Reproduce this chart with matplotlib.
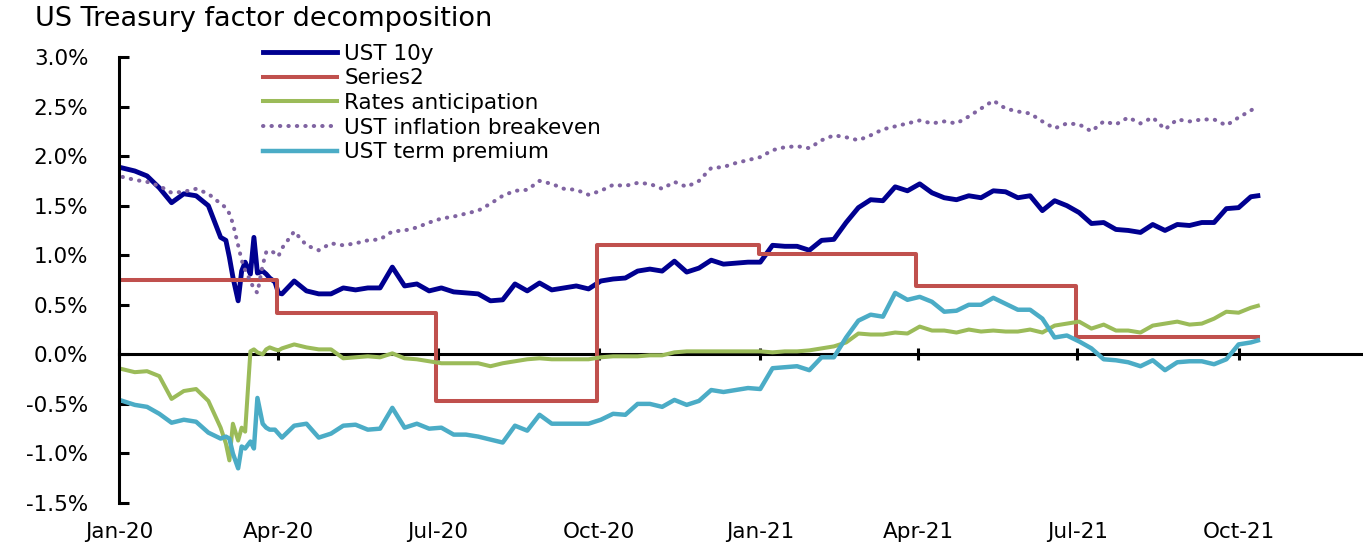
import pandas as pd
import matplotlib
matplotlib.use('Agg')
import matplotlib.pyplot as plt
import matplotlib.dates as mdates
from matplotlib.ticker import MultipleLocator, FuncFormatter

plt.rcParams['font.family'] = ['DejaVu Sans']

# weekly observations, with denser sampling through March 2020
dates = list(pd.date_range('2020-01-03', '2020-02-28', freq='W-FRI'))
dates += list(pd.to_datetime(['2020-03-02', '2020-03-04', '2020-03-06', '2020-03-09', '2020-03-11',
                              '2020-03-13', '2020-03-16', '2020-03-18', '2020-03-20', '2020-03-23',
                              '2020-03-25', '2020-03-27', '2020-03-30', '2020-04-01', '2020-04-03']))
dates += list(pd.date_range('2020-04-10', '2021-10-08', freq='W-FRI'))
dates += [pd.Timestamp('2021-10-12')]

ust10y = [1.88, 1.85, 1.80, 1.68, 1.53, 1.62, 1.60, 1.50, 1.18,
          1.15, 0.98, 0.78, 0.54, 0.84, 0.93, 0.81, 1.18, 0.82, 0.84, 0.81, 0.77, 0.73, 0.62, 0.61,
          0.74, 0.64, 0.61, 0.61, 0.67, 0.65, 0.67, 0.67, 0.88, 0.69,
          0.71, 0.64, 0.67, 0.63, 0.62, 0.61, 0.54, 0.55, 0.71, 0.64,
          0.72, 0.65, 0.67, 0.69, 0.66, 0.74, 0.76, 0.77, 0.84, 0.86,
          0.84, 0.94, 0.83, 0.87, 0.95, 0.91, 0.92, 0.93, 0.93, 1.10,
          1.09, 1.09, 1.05, 1.15, 1.16, 1.33, 1.48, 1.56, 1.55, 1.69,
          1.65, 1.72, 1.63, 1.58, 1.56, 1.60, 1.58, 1.65, 1.64, 1.58,
          1.60, 1.45, 1.55, 1.50, 1.43, 1.32, 1.33, 1.26, 1.25, 1.23,
          1.31, 1.25, 1.31, 1.30, 1.33, 1.33, 1.47, 1.48, 1.59,
          1.60]

rates_anticipation = [-0.15, -0.18, -0.17, -0.22, -0.45, -0.37, -0.35, -0.47, -0.74,
                      -0.90, -1.07, -0.70, -0.87, -0.74, -0.78, 0.03, 0.05, 0.02, 0.00, 0.05, 0.07, 0.05, 0.04, 0.06,
                      0.10, 0.07, 0.05, 0.05, -0.04, -0.03, -0.02, -0.03, 0.01, -0.04,
                      -0.05, -0.07, -0.09, -0.09, -0.09, -0.09, -0.12, -0.09, -0.07, -0.05,
                      -0.04, -0.05, -0.05, -0.05, -0.05, -0.03, -0.02, -0.02, -0.02, -0.01,
                      -0.01, 0.02, 0.03, 0.03, 0.03, 0.03, 0.03, 0.03, 0.03, 0.02,
                      0.03, 0.03, 0.04, 0.06, 0.08, 0.12, 0.21, 0.20, 0.20, 0.22,
                      0.21, 0.28, 0.24, 0.24, 0.22, 0.25, 0.23, 0.24, 0.23, 0.23,
                      0.25, 0.22, 0.29, 0.31, 0.33, 0.26, 0.30, 0.24, 0.24, 0.22,
                      0.29, 0.31, 0.33, 0.30, 0.31, 0.36, 0.43, 0.42, 0.47,
                      0.49]

breakeven = [1.79, 1.76, 1.74, 1.70, 1.63, 1.64, 1.67, 1.62, 1.52,
             1.48, 1.42, 1.32, 1.10, 0.95, 0.85, 0.74, 0.66, 0.62, 0.90, 1.03, 1.05, 1.02, 0.99, 1.07,
             1.24, 1.10, 1.05, 1.12, 1.10, 1.12, 1.15, 1.16, 1.24, 1.25,
             1.28, 1.33, 1.37, 1.39, 1.42, 1.45, 1.52, 1.60, 1.65, 1.66,
             1.75, 1.72, 1.67, 1.66, 1.61, 1.65, 1.71, 1.70, 1.73, 1.72,
             1.67, 1.74, 1.69, 1.75, 1.88, 1.89, 1.93, 1.96, 1.99, 2.06,
             2.09, 2.10, 2.08, 2.16, 2.21, 2.19, 2.16, 2.21, 2.27, 2.30,
             2.33, 2.36, 2.33, 2.35, 2.33, 2.40, 2.48, 2.56, 2.48, 2.45,
             2.43, 2.35, 2.28, 2.33, 2.32, 2.25, 2.35, 2.32, 2.39, 2.33,
             2.39, 2.27, 2.37, 2.35, 2.37, 2.37, 2.31, 2.39, 2.46,
             2.51]

term_premium = [-0.47, -0.51, -0.53, -0.60, -0.69, -0.66, -0.68, -0.79, -0.85,
                -0.83, -0.85, -1.00, -1.15, -0.93, -0.95, -0.88, -0.95, -0.44, -0.70, -0.74, -0.76, -0.76, -0.80, -0.84,
                -0.72, -0.70, -0.84, -0.80, -0.72, -0.71, -0.76, -0.75, -0.54, -0.74,
                -0.70, -0.75, -0.74, -0.81, -0.81, -0.83, -0.86, -0.89, -0.72, -0.77,
                -0.61, -0.70, -0.70, -0.70, -0.70, -0.66, -0.60, -0.61, -0.50, -0.50,
                -0.53, -0.46, -0.51, -0.47, -0.36, -0.38, -0.36, -0.34, -0.35, -0.14,
                -0.13, -0.12, -0.16, -0.03, -0.03, 0.17, 0.34, 0.40, 0.38, 0.62,
                0.55, 0.58, 0.53, 0.43, 0.44, 0.50, 0.50, 0.57, 0.51, 0.45,
                0.45, 0.36, 0.17, 0.19, 0.13, 0.06, -0.05, -0.06, -0.08, -0.12,
                -0.06, -0.16, -0.08, -0.07, -0.07, -0.10, -0.05, 0.10, 0.12,
                0.14]

# Series2 is a quarterly step series
step_dates = pd.to_datetime(['2020-01-01', '2020-03-31', '2020-06-30', '2020-09-30',
                             '2020-12-31', '2021-03-31', '2021-06-30', '2021-10-12'])
step_vals = [0.75, 0.42, -0.47, 1.10, 1.01, 0.69, 0.17, 0.17]

quarter_ticks = pd.date_range('2020-01-01', '2021-10-01', freq='QS')

W, H = 1363, 545
fig = plt.figure(figsize=(W / 100, H / 100), dpi=100)
ax = fig.add_axes([119 / W, 1 - 503 / H, 1 - 119 / W, (503 - 57) / H])

ax.plot(dates, ust10y, color='#000090', lw=3.5, label='UST 10y')
ax.plot(step_dates, step_vals, color='#C0504D', lw=2.9, drawstyle='steps-post', label='Series2')
ax.plot(dates, rates_anticipation, color='#9BBB59', lw=2.9, label='Rates anticipation')
ax.plot(dates, breakeven, color='#8064A2', lw=2.9, linestyle=(0, (0.1, 2.0)),
        dash_capstyle='round', label='UST inflation breakeven')
ax.plot(dates, term_premium, color='#4BACC6', lw=3.2, label='UST term premium')

ax.set_ylim(-1.5, 3.0)
ax.set_xlim(pd.Timestamp('2020-01-01'), pd.Timestamp('2021-12-11'))

for s in ['top', 'right', 'bottom']:
    ax.spines[s].set_visible(False)
ax.spines['left'].set_linewidth(2.2)

fs = 15.5
ax.yaxis.set_major_locator(MultipleLocator(0.5))
ax.yaxis.set_major_formatter(FuncFormatter(lambda v, p: '%.1f%%' % v))
ax.tick_params(axis='y', direction='in', length=7, width=2.2, labelsize=fs, pad=22)

ax.set_xticks(quarter_ticks)
ax.xaxis.set_major_formatter(mdates.DateFormatter('%b-%y'))
ax.tick_params(axis='x', length=0, labelsize=fs, pad=13.5)

# horizontal axis drawn through zero
sec = ax.secondary_xaxis(1.5 / 4.5)
sec.set_xticks(mdates.date2num(quarter_ticks))
sec.tick_params(axis='x', direction='inout', length=8, width=2.2, labelbottom=False)
sec.spines['bottom'].set_linewidth(2.2)

ax.legend(loc='upper left', bbox_to_anchor=(263 / W, 1 - 43.5 / H), bbox_transform=fig.transFigure,
          frameon=False, fontsize=fs, handlelength=3.45, handletextpad=0.33,
          labelspacing=0.22, borderpad=0, borderaxespad=0)

fig.text(35 / W, 1 - 26 / H, 'US Treasury factor decomposition', fontsize=19.5,
         ha='left', va='baseline')

fig.savefig('out.png', dpi=100)
